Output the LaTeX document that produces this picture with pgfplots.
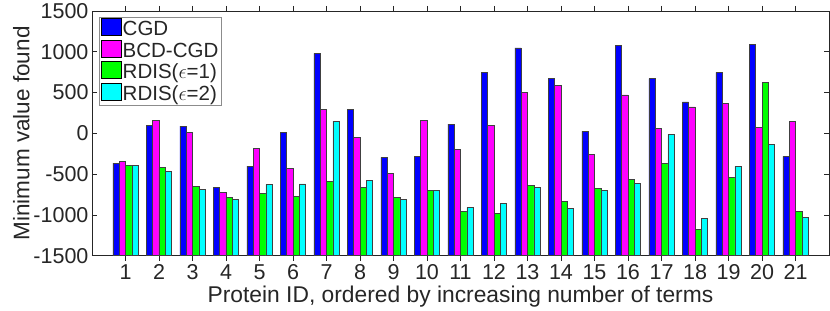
\documentclass[border=0pt]{standalone}
\usepackage{pgfplots}
\pgfplotsset{compat=1.18}
\usepackage{fontspec}
\setmainfont{Liberation Sans}
\definecolor{txt}{HTML}{262626}
\begin{document}
\begin{tikzpicture}
\pgfplotsset{myleg/.style={legend image code/.code={\draw[##1,draw=black] (0pt,-4pt) rectangle (20pt,13pt);}}}
\begin{axis}[
  scale only axis,
  width=737pt, height=244.7pt,
  xmin=0, xmax=22,
  ymin=-1500, ymax=1500,
  y coord trafo/.code={\pgfmathparse{#1+1500}},
  y coord inv trafo/.code={\pgfmathparse{#1-1500}},
  ytick={-1500,-1000,-500,0,500,1000,1500},
  yticklabels={-1500,-1000,-500,0,500,1000,1500},
  xtick={1,...,21},
  tick align=inside,
  major tick length=5pt,
  axis line style={draw=txt, line width=0.6pt},
  every tick/.style={draw=txt, line width=0.6pt},
  ticklabel style={font=\fontsize{21.5}{24}\selectfont, text=txt},
  /pgf/number format/assume math mode=true,
  /pgf/number format/1000 sep={},
  xlabel={Protein ID, ordered by increasing number of terms},
  ylabel={Minimum value found},
  label style={text=txt},
  xlabel style={font=\fontsize{22.8}{25}\selectfont, yshift=0pt},
  ylabel style={font=\fontsize{22.5}{25}\selectfont, yshift=-3pt},
  ybar, bar width=0.187,
  legend cell align=left,
  legend style={at={(axis description cs:0,1)}, anchor=north west, xshift=7pt, yshift=-6pt,
    font=\fontsize{20.5}{21}\selectfont, draw=black!45, inner xsep=1.5pt, inner ysep=1pt, row sep=0pt,
    column sep=0pt,
    nodes={inner xsep=1.5pt, inner ysep=0pt, text height=12.5pt, text depth=4pt, text=txt}},
]
\coordinate (sw) at (rel axis cs:0,0);
\coordinate (ne) at (rel axis cs:1,1);
\addplot[myleg, fill={rgb,255:red,0;green,0;blue,255}, draw=black!75, line width=0.5pt, bar shift=-0.2805] coordinates {
(1,-364) (2,102) (3,89) (4,-667) (5,-401) (6,8) (7,981) (8,290) (9,-294) (10,-278) (11,114)
(12,743) (13,1049) (14,678) (15,25) (16,1078) (17,670) (18,387) (19,747) (20,1091) (21,-282)};
\addplot[myleg, fill={rgb,255:red,255;green,0;blue,255}, draw=black!75, line width=0.5pt, bar shift=-0.0935] coordinates {
(1,-343) (2,159) (3,8) (4,-724) (5,-184) (6,-425) (7,294) (8,-53) (9,-490) (10,159) (11,-192)
(12,98) (13,502) (14,588) (15,-254) (16,473) (17,57) (18,326) (19,363) (20,77) (21,147)};
\addplot[myleg, fill={rgb,255:red,0;green,255;blue,0}, draw=black!75, line width=0.5pt, bar shift=0.0935] coordinates {
(1,-389) (2,-417) (3,-654) (4,-785) (5,-740) (6,-769) (7,-588) (8,-658) (9,-781) (10,-699) (11,-956)
(12,-981) (13,-634) (14,-830) (15,-679) (16,-560) (17,-368) (18,-1173) (19,-544) (20,625) (21,-956)};
\addplot[myleg, fill={rgb,255:red,0;green,255;blue,255}, draw=black!75, line width=0.5pt, bar shift=0.2805] coordinates {
(1,-397) (2,-466) (3,-687) (4,-809) (5,-625) (6,-621) (7,151) (8,-577) (9,-813) (10,-703) (11,-907)
(12,-854) (13,-662) (14,-919) (15,-695) (16,-613) (17,-12) (18,-1047) (19,-405) (20,-135) (21,-1026)};
\legend{CGD, BCD-CGD, RDIS($\epsilon$=1), RDIS($\epsilon$=2)}
\end{axis}
\path ([xshift=-92pt,yshift=-54.3pt]sw) rectangle ([xshift=1pt,yshift=11pt]ne);
\end{tikzpicture}
\end{document}
